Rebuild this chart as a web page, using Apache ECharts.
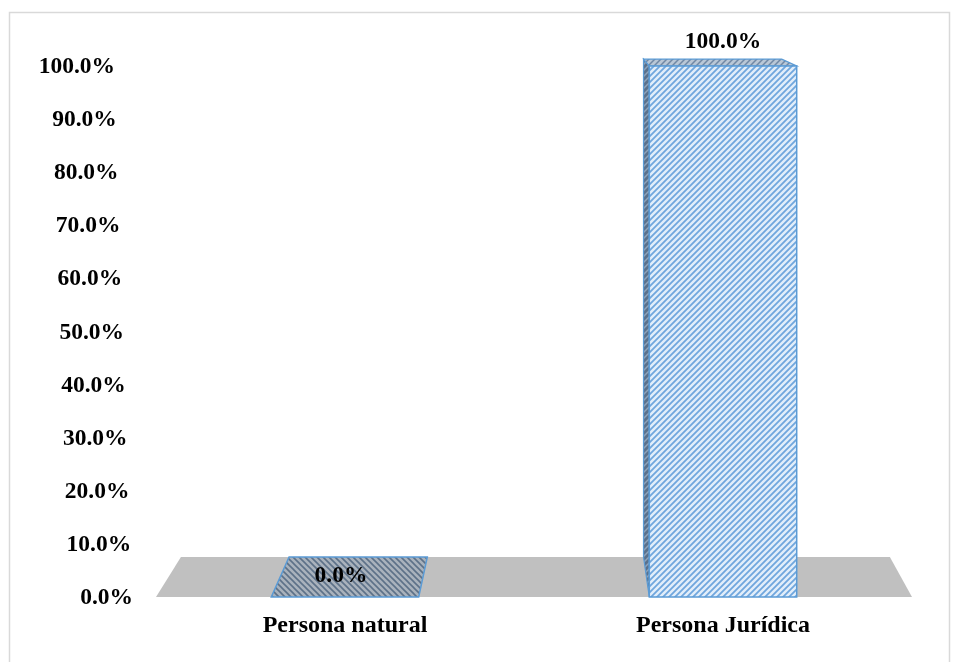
<!DOCTYPE html>
<html>
<head>
<meta charset="utf-8">
<script src="https://cdn.jsdelivr.net/npm/echarts@6/dist/echarts.min.js"></script>
<style>html,body{margin:0;padding:0;background:#fff}#c{width:958px;height:662px}</style>
</head>
<body>
<div id="c"></div>
<script>
const categories = ['Persona natural', 'Persona Jurídica'];
const values = [0.0, 100.0];
const yTicks = [0, 10, 20, 30, 40, 50, 60, 70, 80, 90, 100];

const FONT = '"Liberation Serif", "Times New Roman", serif';
const VSIZE = 23.5;
const CSIZE = 24;

function hatch(bg, fg, size, lw, dir) {
  const c = document.createElement('canvas');
  c.width = size; c.height = size;
  const g = c.getContext('2d');
  g.fillStyle = bg; g.fillRect(0, 0, size, size);
  g.strokeStyle = fg; g.lineWidth = lw;
  g.beginPath();
  if (dir > 0) {
    g.moveTo(0, size); g.lineTo(size, 0);
    g.moveTo(-1, 1); g.lineTo(1, -1);
    g.moveTo(size - 1, size + 1); g.lineTo(size + 1, size - 1);
  } else {
    g.moveTo(0, 0); g.lineTo(size, size);
    g.moveTo(-1, size - 1); g.lineTo(1, size + 1);
    g.moveTo(size - 1, -1); g.lineTo(size + 1, 1);
  }
  g.stroke();
  return { image: c, repeat: 'repeat' };
}

const patFront = hatch('#e2eefa', '#6fa6dd', 6, 1.8, 1);
const patSide = hatch('#5a718c', '#8ea3ba', 6, 1.5, 1);
const patTop = hatch('#b9c7d6', '#7088a4', 6, 1.5, 1);
const patFlat = hatch('#a9b2bc', '#5d7188', 6, 1.6, -1);

const STROKE = '#5b9bd5';

function proj(cs) {
  const V = [cs.x + cs.width * 0.53, cs.y - 111];
  const s = 0.9377;
  return (x, y) => [V[0] + (x - V[0]) * s, V[1] + (y - V[1]) * s];
}

function renderFloor(params, api) {
  const cs = params.coordSys;
  const P = proj(cs);
  const yb = cs.y + cs.height;
  const xl = cs.x, xr = cs.x + cs.width;
  return {
    type: 'polygon',
    shape: { points: [[xl, yb], [xr, yb], P(xr, yb), P(xl, yb)] },
    style: { fill: '#c0c0c0' },
    silent: true
  };
}

function renderBar(params, api) {
  const cs = params.coordSys;
  const P = proj(cs);
  const i = api.value(0), v = api.value(1);
  const base = api.coord([i, 0]);
  const top = api.coord([i, v]);
  const band = api.size([1, 0])[0];
  const w = band * 0.39;
  const x0 = base[0] - w / 2, x1 = base[0] + w / 2;
  const yb = base[1], yt = top[1];
  const V0 = cs.x + cs.width * 0.53;
  const children = [];
  const label = v.toFixed(1) + '%';
  if (yb - yt < 1) {
    children.push({
      type: 'polygon',
      shape: { points: [[x0, yb], [x1, yb], P(x1, yb), P(x0, yb)] },
      style: { fill: patFlat, stroke: STROKE, lineWidth: 1.5 }
    });
    const backY = P(x0, yb)[1];
    children.push({
      type: 'text',
      style: { text: label, x: base[0] - 4, y: (yb + backY) / 2 - 1, align: 'center', verticalAlign: 'middle',
        font: 'bold ' + VSIZE + 'px ' + FONT, fill: '#000' }
    });
  } else {
    const sx = x0 > V0 ? x0 : x1;
    children.push({
      type: 'polygon',
      shape: { points: [[sx, yt], [sx, yb], P(sx, yb), P(sx, yt)] },
      style: { fill: patSide, stroke: STROKE, lineWidth: 1.2 }
    });
    children.push({
      type: 'polygon',
      shape: { points: [[x0, yt], [x1, yt], P(x1, yt), P(x0, yt)] },
      style: { fill: patTop, stroke: STROKE, lineWidth: 1.2 }
    });
    children.push({
      type: 'rect',
      shape: { x: x0, y: yt, width: x1 - x0, height: yb - yt },
      style: { fill: patFront, stroke: STROKE, lineWidth: 1.5 }
    });
    const backTop = P(base[0], yt)[1];
    children.push({
      type: 'text',
      style: { text: label, x: base[0], y: backTop - 17, align: 'center', verticalAlign: 'middle',
        font: 'bold ' + VSIZE + 'px ' + FONT, fill: '#000' }
    });
  }
  return { type: 'group', children };
}

const rich = {};
yTicks.forEach(t => {
  rich['p' + t] = {
    padding: [2, 0.18 * t, 0, 0],
    fontFamily: FONT, fontWeight: 'bold', fontSize: VSIZE, color: '#000'
  };
});

const chart = echarts.init(document.getElementById('c'), null, { renderer: 'canvas' });
chart.setOption({
  animation: false,
  backgroundColor: '#fff',
  graphic: [{
    type: 'rect', silent: true,
    shape: { x: 9.5, y: 12.5, width: 940, height: 660 },
    style: { fill: 'none', stroke: '#d9d9d9', lineWidth: 1.5 }
  }],
  grid: { left: 156, right: 46, top: 66, bottom: 65, containLabel: false },
  xAxis: {
    type: 'category',
    data: categories,
    axisLine: { show: false },
    axisTick: { show: false },
    axisLabel: { margin: 17, fontFamily: FONT, fontWeight: 'bold', fontSize: CSIZE, color: '#000' }
  },
  yAxis: {
    type: 'value',
    min: 0, max: 100, interval: 10,
    axisLine: { show: false },
    axisTick: { show: false },
    splitLine: { show: false },
    axisLabel: {
      margin: 23,
      formatter: v => '{p' + v + '|' + v.toFixed(1) + '%}',
      rich: rich
    }
  },
  series: [
    {
      type: 'custom',
      renderItem: renderFloor,
      data: [[0, 0]],
      encode: { x: 0, y: 1 },
      z: 1,
      silent: true
    },
    {
      type: 'custom',
      renderItem: renderBar,
      data: values.map((v, i) => [i, v]),
      encode: { x: 0, y: 1 },
      z: 2,
      silent: true
    }
  ]
});
</script>
</body>
</html>
